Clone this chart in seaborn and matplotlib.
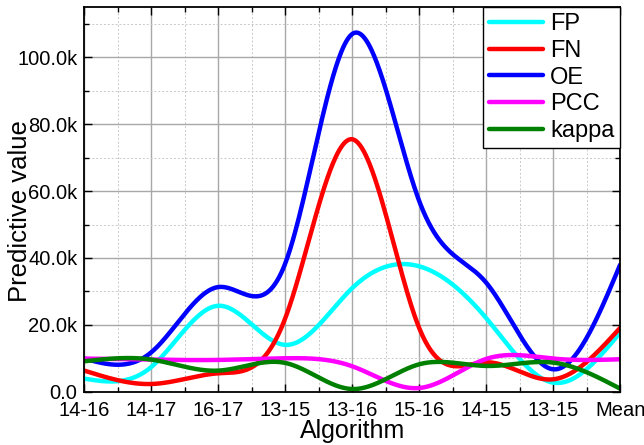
import numpy as np
import pandas as pd
import matplotlib
matplotlib.use("Agg")
import matplotlib.pyplot as plt
import seaborn as sns
from matplotlib.ticker import FuncFormatter, MultipleLocator

categories = ["14-16", "14-17", "16-17", "13-15", "13-16", "15-16", "14-15", "13-15", "Mean"]
FP = [3900, 7400, 25700, 14000, 31000, 37500, 22000, 2700, 17700]
FN = [6300, 2300, 5500, 22000, 75500, 19000, 8800, 3700, 19100]
OE = [9900, 11800, 31300, 38400, 107000, 57000, 32600, 6700, 38000]
PCC = [9900, 9600, 9500, 10000, 7600, 1100, 9800, 9900, 9700]
kappa = [9100, 9600, 6300, 8600, 800, 8200, 7700, 8700, 900]

series = {"FP": FP, "FN": FN, "OE": OE, "PCC": PCC, "kappa": kappa}
colors = {"FP": "#00FFFF", "FN": "#FF0000", "OE": "#0000FF", "PCC": "#FF00FF", "kappa": "#008000"}


def natural_spline(x, y, xs):
    x = np.asarray(x, float)
    y = np.asarray(y, float)
    n = len(x)
    h = np.diff(x)
    A = np.zeros((n, n))
    b = np.zeros(n)
    A[0, 0] = 1
    A[-1, -1] = 1
    for i in range(1, n - 1):
        A[i, i - 1] = h[i - 1]
        A[i, i] = 2 * (h[i - 1] + h[i])
        A[i, i + 1] = h[i]
        b[i] = 3 * ((y[i + 1] - y[i]) / h[i] - (y[i] - y[i - 1]) / h[i - 1])
    c = np.linalg.solve(A, b)
    out = np.empty_like(xs)
    for k, xv in enumerate(xs):
        i = min(max(np.searchsorted(x, xv) - 1, 0), n - 2)
        dx = xv - x[i]
        bi = (y[i + 1] - y[i]) / h[i] - h[i] * (2 * c[i] + c[i + 1]) / 3
        di = (c[i + 1] - c[i]) / (3 * h[i])
        out[k] = y[i] + bi * dx + c[i] * dx ** 2 + di * dx ** 3
    return out


pos = np.arange(len(categories))
xs = np.linspace(0, len(categories) - 1, 600)
frames = []
for name, vals in series.items():
    frames.append(pd.DataFrame({"x": xs, "y": natural_spline(pos, vals, xs), "series": name}))
df = pd.concat(frames, ignore_index=True)

sns.set_theme(style="white")
plt.rcParams["font.family"] = ["Liberation Sans", "DejaVu Sans"]
plt.rcParams["text.color"] = "black"
plt.rcParams["axes.labelcolor"] = "black"

fig = plt.figure(figsize=(6.44, 4.45), dpi=100)
ax = fig.add_axes([0.131, 0.1198, 0.832, 0.864])

sns.lineplot(data=df, x="x", y="y", hue="series", palette=colors, linewidth=3.2,
             ax=ax, sort=False, estimator=None)

ax.set_xlim(0, len(categories) - 1)
ax.set_ylim(0, 115000)
ax.set_xticks(pos)
ax.set_xticklabels(categories)
ax.xaxis.set_minor_locator(MultipleLocator(0.5))
ax.yaxis.set_major_locator(MultipleLocator(20000))
ax.yaxis.set_minor_locator(MultipleLocator(10000))
ax.yaxis.set_major_formatter(FuncFormatter(lambda v, p: "0.0" if v == 0 else f"{v/1000:.1f}k"))

ax.grid(which="major", color="#a8a8a8", linewidth=1.0, linestyle="-")
ax.grid(which="minor", color="#c8c8c8", linewidth=0.7, linestyle=(0, (2, 2)))
ax.set_axisbelow(True)

for s in ax.spines.values():
    s.set_color("black")
    s.set_linewidth(1.3)
ax.tick_params(which="both", direction="in", top=True, right=True, bottom=True, left=True,
               colors="black", labelcolor="black", labelsize=14.5, width=1.0)
ax.tick_params(which="major", length=6)
ax.tick_params(which="minor", length=3.5)
ax.tick_params(axis="x", pad=7)
ax.tick_params(axis="y", pad=5)

ax.set_xlabel("Algorithm", fontsize=18, labelpad=-1, color="black")
ax.set_ylabel("Predictive value", fontsize=18.5, color="black")
ax.yaxis.set_label_coords(-0.098, 0.47)

leg = ax.legend(loc="upper right", fontsize=17, frameon=True, fancybox=False,
                edgecolor="black", framealpha=1, borderaxespad=0.0, handlelength=2.3,
                labelspacing=0.2, handletextpad=0.3, borderpad=0.25)
leg.get_frame().set_linewidth(1.0)
for line in leg.get_lines():
    line.set_linewidth(3.2)
for t in leg.get_texts():
    t.set_color("black")

fig.savefig("out.png", dpi=100)
